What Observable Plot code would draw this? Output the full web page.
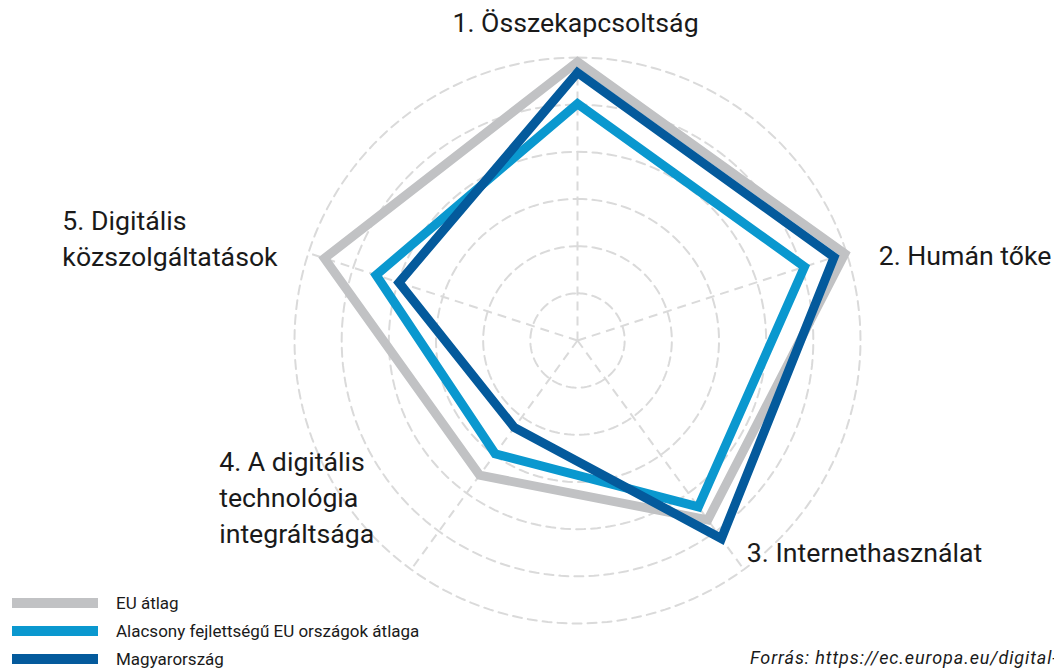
<!DOCTYPE html>
<html>
<head>
<meta charset="utf-8">
<script src="https://cdn.jsdelivr.net/npm/d3@7"></script>
<script src="https://cdn.jsdelivr.net/npm/@observablehq/plot@0.6"></script>
<style>
  html, body { margin: 0; padding: 0; background: #fff; overflow: hidden; }
  #wrap { position: relative; width: 1054px; height: 668px; overflow: hidden; font-family: Roboto, "Noto Sans", sans-serif; }
  #legend { position: absolute; left: 12px; top: 589px; }
  .row { display: flex; align-items: center; height: 28px; }
  .sw { width: 86px; height: 10px; margin-right: 18px; }
  .lt { font-size: 17px; color: #1a1a1a; line-height: 20px; }
  #caption { position: absolute; left: 750px; top: 647px; font-size: 18px; line-height: 22px; font-style: italic; color: #1a1a1a; white-space: nowrap; letter-spacing: 0.9px; }
</style>
</head>
<body>
<div id="wrap">
  <div id="chart"></div>
  <div id="legend"></div>
  <div id="caption"></div>
</div>
<script>
// ---- data ----
const categories = [
  "1. Összekapcsoltság",
  "2. Humán tőke",
  "3. Internethasználat",
  "4. A digitális\ntechnológia\nintegráltsága",
  "5. Digitális\nközszolgáltatások"
];
const seriesNames = ["EU átlag", "Alacsony fejlettségű EU országok átlaga", "Magyarország"];
const euValues  = [59.1, 59.6, 47.0, 35.3, 56.4];
const lowValues = [50.2, 50.6, 43.6, 29.7, 44.9];
const huValues  = [56.8, 57.2, 51.9, 22.8, 39.8];
const ringTicks = [10, 20, 30, 40, 50, 60];
const captionText = "Forrás: https://ec.europa.eu/digital-single-market/en/desi";

// ---- styles ----
const colors = ["#c1c2c4", "#0a98cf", "#045a9c"];
const W = 1054, H = 668, cx = 577, cy = 340, Rpx = 283;
const maxV = ringTicks[ringTicks.length - 1];
const k = Rpx / maxV; // px per unit

const n = categories.length;
const ang = i => i * 2 * Math.PI / n;
const polar = (r, a) => ({x: r * Math.sin(a), y: r * Math.cos(a)});

const allSeries = [euValues, lowValues, huValues];
const seriesData = allSeries.map((vals, s) =>
  vals.map((v, i) => ({series: seriesNames[s], ...polar(v, ang(i))}))
);

const ringData = ringTicks.flatMap(t =>
  d3.range(0, 360, 2).map(deg => ({ring: t, ...polar(t, deg * Math.PI / 180)}))
);
const spokeData = categories.map((c, i) => polar(maxV, ang(i)));

// label layout: anchor + pixel offsets from axis end
const labelLayout = [
  {anchor: "middle", dx: -2, dy: -37},
  {anchor: "start", dx: 32, dy: 0},
  {anchor: "start", dx: 3, dy: -19},
  {anchor: "start", dx: -192, dy: -74},
  {anchor: "start", dx: -246, dy: -17}
];

const labelMarks = categories.map((c, i) => {
  const p = spokeData[i];
  const L = labelLayout[i];
  return Plot.text([{label: c, x: p.x + L.dx / k, y: p.y - L.dy / k}], {
    x: "x", y: "y", text: "label",
    textAnchor: L.anchor, lineAnchor: "middle",
    fontSize: 26.7, lineHeight: 1.36, fill: "#1a1a1a",
    fontFamily: "Roboto, 'Noto Sans', sans-serif"
  });
});

const chart = Plot.plot({
  width: W, height: H,
  marginTop: 0, marginRight: 0, marginBottom: 0, marginLeft: 0,
  x: {domain: [-cx / k, (W - cx) / k], axis: null},
  y: {domain: [-(H - cy) / k, cy / k], axis: null},
  style: {background: "white", overflow: "visible"},
  marks: [
    Plot.line(ringData, {x: "x", y: "y", z: "ring", curve: "linear-closed",
      stroke: "#dadada", strokeWidth: 2, strokeDasharray: "9,6"}),
    Plot.link(spokeData, {x1: 0, y1: 0, x2: "x", y2: "y",
      stroke: "#dadada", strokeWidth: 2, strokeDasharray: "9,6"}),
    ...seriesData.map((d, s) => Plot.line(d, {x: "x", y: "y", curve: "linear-closed",
      stroke: colors[s], strokeWidth: 9, strokeLinejoin: "miter", strokeMiterlimit: 10})),
    ...labelMarks
  ]
});
document.getElementById("chart").appendChild(chart);

// legend
const legend = document.getElementById("legend");
seriesNames.forEach((name, s) => {
  const row = document.createElement("div");
  row.className = "row";
  const sw = document.createElement("div");
  sw.className = "sw";
  sw.style.background = colors[s];
  const t = document.createElement("span");
  t.className = "lt";
  t.textContent = name;
  row.appendChild(sw); row.appendChild(t);
  legend.appendChild(row);
});
document.getElementById("caption").textContent = captionText;
</script>
</body>
</html>
